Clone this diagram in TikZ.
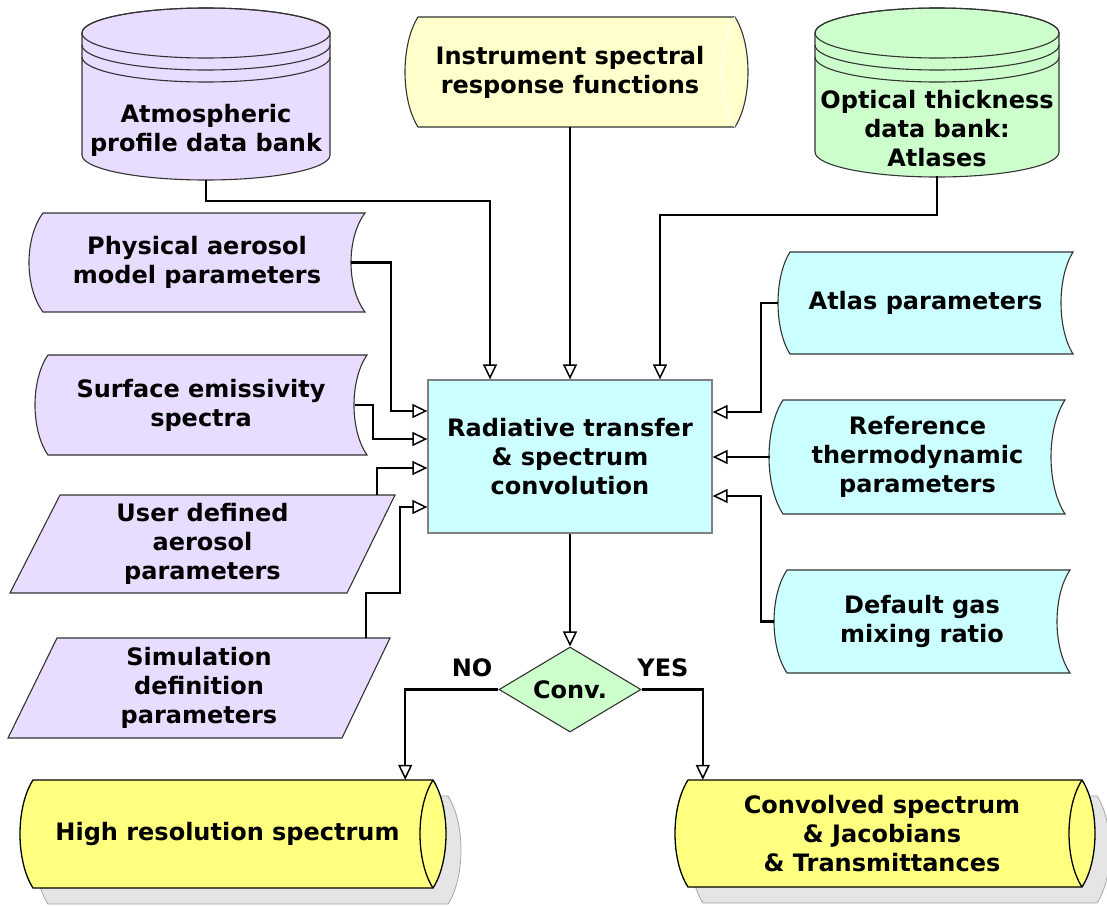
\documentclass[tikz,border=0pt]{standalone}
\usepackage{fontspec}
\setmainfont{DejaVu Sans}
\usetikzlibrary{arrows.meta, shapes.geometric}

\definecolor{lilac}{HTML}{E8DCFF}
\definecolor{paleblue}{HTML}{CCFFFF}
\definecolor{palegreen}{HTML}{CCFFCC}
\definecolor{paleyellow}{HTML}{FFFFCC}
\definecolor{brightyellow}{HTML}{FFFF80}
\definecolor{edge}{HTML}{333333}

\begin{document}
\begin{tikzpicture}[x=1pt, y=-1pt,
  font=\fontsize{24}{29}\selectfont\bfseries,
  lbl/.style={align=center, inner sep=0pt},
  lilacfill/.style={fill=lilac, draw=edge, line width=1.1pt},
  bluefill/.style={fill=paleblue, draw=edge, line width=1.1pt},
  greenfill/.style={fill=palegreen, draw=edge, line width=1.1pt},
  palefill/.style={fill=paleyellow, draw=edge, line width=1.1pt},
  yellowfill/.style={fill=brightyellow, draw=black, line width=1.3pt},
  shadowfill/.style={fill=black!10, draw=black!35, line width=0.8pt},
  conn/.style={line width=2.1pt, -{Triangle[open, length=15pt, width=14pt, line width=1.5pt]}}]
  \useasboundingbox (0,0) rectangle (1107,905);
  % stored data: style, left x, right x, top y, bottom y, bulge
  \def\storedata#1#2#3#4#5#6{\draw[#1] (#2,#4) -- (#3,#4) .. controls ({#3-4*#6/3},{#4+(#5-#4)/4}) and ({#3-4*#6/3},{#5-(#5-#4)/4}) .. (#3,#5) -- (#2,#5) .. controls ({#2-4*#6/3},{#5-(#5-#4)/4}) and ({#2-4*#6/3},{#4+(#5-#4)/4}) .. (#2,#4) -- cycle;}
  % lying drum: style, left x, right x, top y, bottom y, bulge, inner arc colour
  \def\drum#1#2#3#4#5#6#7{\draw[#1] (#2,#4) -- (#3,#4) .. controls ({#3+4*#6/3},{#4+(#5-#4)/4}) and ({#3+4*#6/3},{#5-(#5-#4)/4}) .. (#3,#5) -- (#2,#5) .. controls ({#2-4*#6/3},{#5-(#5-#4)/4}) and ({#2-4*#6/3},{#4+(#5-#4)/4}) .. (#2,#4) -- cycle;
    \draw[#1, fill=none, draw=#7] (#3,#4) .. controls ({#3-4*#6/3},{#4+(#5-#4)/4}) and ({#3-4*#6/3},{#5-(#5-#4)/4}) .. (#3,#5);}
  % data bank: style, centre x, x radius, top y, bottom y
  \def\bank#1#2#3#4#5{\draw[#1] ({#2-#3},#4) -- ({#2-#3},#5) arc[start angle=180, end angle=0, x radius=#3, y radius=25] -- ({#2+#3},#4) arc[start angle=0, end angle=-180, x radius=#3, y radius=25] -- cycle;
    \draw[#1, fill=none] (#2,#4) ellipse[x radius=#3, y radius=25];
    \draw[#1, fill=none] ({#2-#3},{#4+12}) arc[start angle=180, end angle=0, x radius=#3, y radius=25];
    \draw[#1, fill=none] ({#2-#3},{#4+24}) arc[start angle=180, end angle=0, x radius=#3, y radius=25];}

  % outlines
  \bank{lilacfill}{206}{124}{33}{155}
  \bank{greenfill}{937}{122}{33}{152}
  \drum{palefill}{418}{735}{17}{127}{13}{white}
  \storedata{lilacfill}{43}{365}{213}{312}{14}
  \storedata{lilacfill}{48}{367}{355}{455}{13}
  \draw[lilacfill] (60,495) -- (395,495) -- (347,593) -- (10,593) -- cycle;
  \draw[lilacfill] (57,638) -- (390,638) -- (342,738) -- (8,738) -- cycle;
  \storedata{bluefill}{790}{1073}{252}{354}{12}
  \storedata{bluefill}{783}{1065}{400}{514}{14}
  \storedata{bluefill}{787}{1070}{570}{673}{13}
  \drum{shadowfill}{48}{448}{796}{904}{13}{none}
  \drum{yellowfill}{33}{433}{780}{888}{13}{black}
  \drum{shadowfill}{703}{1097}{796}{903}{13}{none}
  \drum{yellowfill}{688}{1082}{780}{887}{13}{black}

  % texts
  \node[lbl, minimum width=248pt, minimum height=100pt] (atm) at (206,130) {Atmospheric\\profile data bank};
  \node[lbl, minimum width=330pt, minimum height=110pt] (inst) at (570,72) {Instrument spectral\\response functions};
  \node[lbl, minimum width=244pt, minimum height=95pt] (opt) at (937,128.5) {Optical thickness\\data bank:\\Atlases};
  \node[lbl, minimum width=336pt, minimum height=99pt] (phys) at (197,262.5) {Physical aerosol\\model parameters};
  \node[lbl, minimum width=332pt, minimum height=100pt] (surf) at (201,405) {Surface emissivity\\spectra};
  \node[lbl, minimum width=385pt, minimum height=98pt] (user) at (202.5,544) {User defined\\aerosol\\parameters};
  \node[lbl, minimum width=382pt, minimum height=100pt] (sim) at (199,688) {Simulation\\definition\\parameters};
  \node[lbl, minimum width=284pt, minimum height=153pt, fill=paleblue, draw=black!50, line width=1.3pt] (rt) at (570,456.5) {Radiative transfer\\\& spectrum\\convolution};
  \node[lbl, minimum width=295pt, minimum height=102pt] (atlas) at (925.5,303) {Atlas parameters};
  \node[lbl, minimum width=295pt, minimum height=114pt] (ref) at (917.5,457) {Reference\\thermodynamic\\parameters};
  \node[lbl, minimum width=296pt, minimum height=103pt] (gas) at (922,621.5) {Default gas\\mixing ratio};
  \node[diamond, greenfill, lbl, aspect=1.67, minimum width=142pt, minimum height=85pt] (dec) at (570,689.5) {Conv.};
  \node[lbl] (no) at (472,668) {NO};
  \node[lbl] (yes) at (663,668) {YES};
  \node[lbl, minimum width=411pt, minimum height=108pt] (hires) at (227.5,834) {High resolution spectrum};
  \node[lbl, minimum width=400pt, minimum height=107pt] (outc) at (882,833.5) {Convolved spectrum\\\& Jacobians\\\& Transmittances};

  % connectors
  \draw[conn] (atm.south) -- ++(0,21) -| ([xshift=-80pt]rt.north);
  \draw[conn] (inst.south) -- (rt.north);
  \draw[conn] (opt.south) -- ++(0,39) -| ([xshift=90pt]rt.north);
  \draw[conn] ([xshift=-14pt]phys.east) -- ++(40,0) |- ([yshift=45.5pt]rt.west);
  \draw[conn] ([xshift=-12pt]surf.east) -- ++(18,0) |- ([yshift=17.5pt]rt.west);
  \draw[conn] ([xshift=174.5pt]user.north) |- ([yshift=-11.5pt]rt.west);
  \draw[conn] ([xshift=167pt]sim.north) -- ++(0,-45) -- ++(34,0) |- ([yshift=-50.5pt]rt.west);
  \draw[conn] (atlas.west) -- ++(-17,0) |- ([yshift=44.5pt]rt.east);
  \draw[conn] (ref.west) -- (ref.west -| rt.east);
  \draw[conn] (gas.west) -- ++(-13,0) |- ([yshift=-39.5pt]rt.east);
  \draw[conn] (rt.south) -- (dec.north);
  \draw[conn] (dec.west) -| ([xshift=-28pt]hires.north east);
  \draw[conn] (dec.east) -| ([xshift=21pt]outc.north west);
\end{tikzpicture}
\end{document}
